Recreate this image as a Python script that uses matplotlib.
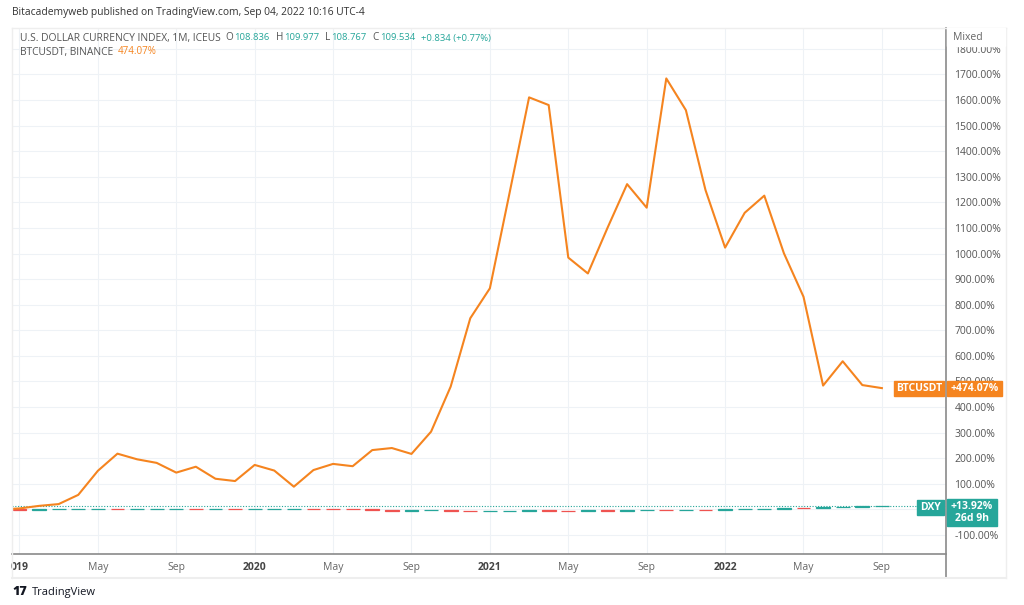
import matplotlib.pyplot as plt
from matplotlib.lines import Line2D
from matplotlib.patches import Rectangle

# month index 0 = Jan 2019 (first value = Dec 2018)
btc_months = list(range(-1, 45))
btc_pct = [0, 4, 14, 21, 57, 151, 218, 196, 182, 144, 167, 120, 111,
           174, 152, 89, 154, 178, 169, 232, 240, 217, 304, 480, 747,
           864, 1235, 1610, 1580, 984, 922, 1100, 1271, 1179, 1684, 1560, 1248,
           1023, 1159, 1226, 1001, 831, 484, 579, 486, 474.07]

# DXY monthly closes, Dec 2018 .. Sep 2022
dxy_close = [96.17,
             95.58, 96.16, 97.28, 97.48, 97.75, 96.13, 98.52, 98.92, 99.38, 97.35, 98.27, 96.39,
             97.39, 98.13, 99.05, 99.02, 98.34, 97.39, 93.35, 92.14, 93.89, 94.04, 91.87, 89.94,
             90.58, 90.88, 93.23, 91.28, 90.03, 92.44, 92.17, 92.63, 94.23, 94.12, 95.99, 95.97,
             96.54, 96.71, 98.31, 103.20, 101.75, 104.69, 105.90, 108.70, 109.534]
dxy_base = 96.15

tick_pos = [0, 4, 8, 12, 16, 20, 24, 28, 32, 36, 40, 44]
tick_lab = ["019", "May", "Sep", "2020", "May", "Sep", "2021", "May", "Sep", "2022", "May", "Sep"]

ORANGE = "#f5841f"
TEAL = "#26a69a"
RED = "#ef5350"
GRAY = "#555555"

plt.rcParams['font.family'] = ['Open Sans', 'DejaVu Sans']

W, H = 1024, 605
fig = plt.figure(figsize=(W / 100, H / 100), dpi=100)
renderer = fig.canvas.get_renderer()


def fx(x):
    return x / W


def fy(y):
    return 1 - y / H


ax = fig.add_axes([fx(12), fy(554), (946 - 12) / W, (554 - 28) / H])
ax.set_xlim(-0.38, 47.27)
ax.set_ylim(-174, 1881)

# DXY candles
dxy_pct = [(p / dxy_base - 1) * 100 for p in dxy_close]
opens = dxy_pct[:-1]
closes = dxy_pct[1:]
cx = list(range(len(closes)))
cols = [TEAL if c >= o else RED for o, c in zip(opens, closes)]
ax.bar(cx, [c - o for o, c in zip(opens, closes)], bottom=opens, width=0.7,
       color=cols, edgecolor=cols, linewidth=0.9, zorder=3)
ax.axhline(dxy_pct[-1], color=TEAL, lw=0.8, ls=(0, (1, 1.5)), zorder=2)

# BTC line
ax.plot(btc_months, btc_pct, color=ORANGE, lw=1.5, zorder=4)

ax.grid(color="#eef2f6", lw=0.8)
ax.set_axisbelow(True)
for s in ["top", "left", "right"]:
    ax.spines[s].set_visible(False)
ax.spines["bottom"].set_color("#8a8a8a")
ax.spines["bottom"].set_linewidth(1.2)

yt = list(range(-100, 1900, 100))
ax.set_yticks(yt)
# 0% label sits under the DXY tag in the original
ax.set_yticklabels(["" if v == 0 else f"{v:.2f}%" for v in yt])
ax.yaxis.tick_right()
ax.tick_params(axis="y", length=0, pad=6, labelsize=7.5, labelcolor=GRAY)
ax.set_xticks(tick_pos)
ax.set_xticklabels(tick_lab)
ax.tick_params(axis="x", length=0, pad=6, labelsize=7.5, labelcolor="#666666")
for lab in ax.get_xticklabels():
    if lab.get_text() in ("2020", "2021", "2022", "019"):
        lab.set_fontweight("bold")
        lab.set_color("#444444")

# frame lines
fig.add_artist(Line2D([fx(946), fx(946)], [fy(28), fy(578)], color="#8a8a8a", lw=1.2))
fig.add_artist(Line2D([fx(1006), fx(1006)], [fy(28), fy(578)], color="#eeeeee", lw=1))
fig.add_artist(Line2D([fx(12), fx(1006)], [fy(578), fy(578)], color="#eeeeee", lw=1.5))
fig.add_artist(Line2D([fx(12), fx(1006)], [fy(28), fy(28)], color="#eeeeee", lw=1))
fig.add_artist(Line2D([fx(12), fx(12)], [fy(28), fy(578)], color="#eeeeee", lw=1))

# "Mixed" over partially hidden 1800 label
fig.add_artist(Rectangle((fx(947), fy(46)), fx(58), 18 / H, color="white", zorder=5))
fig.text(fx(953), fy(37), "Mixed", fontsize=7.5, color="#666666", va="center", zorder=6)


def tag(x0, x1, y0, y1, s, color, weight="bold"):
    fig.add_artist(Rectangle((fx(x0), fy(y1)), fx(x1 - x0), (y1 - y0) / H,
                             color=color, zorder=7))
    fig.text(fx((x0 + x1) / 2), fy((y0 + y1) / 2), s, fontsize=7.5, color="white",
             ha="center", va="center", fontweight=weight, zorder=8, linespacing=1.15)


# price tags
tag(894, 944, 381, 396, "BTCUSDT", ORANGE)
tag(947, 1002, 381, 396, f"+{btc_pct[-1]:.2f}%", ORANGE)
tag(917, 944, 500, 515, "DXY", TEAL)
tag(947, 997, 499, 526, f"+{dxy_pct[-1]:.2f}%\n26d 9h", TEAL)


def chain(x, y, pieces):
    for s, c, size, gap in pieces:
        t = fig.text(fx(x), fy(y), s, fontsize=size, color=c, va="center")
        bb = t.get_window_extent(renderer)
        x = x + bb.width + gap


# header texts
fig.text(fx(12), fy(13), "Bitacademyweb published on TradingView.com, Sep 04, 2022 10:16 UTC-4",
         fontsize=7.4, color="#333333", va="center")
chain(20, 38, [("U.S. DOLLAR CURRENCY INDEX, 1M, ICEUS", GRAY, 7.4, 5),
               ("O", GRAY, 7.2, 1), ("108.836", TEAL, 6.8, 6),
               ("H", GRAY, 7.2, 1), ("109.977", TEAL, 6.8, 6),
               ("L", GRAY, 7.2, 1), ("108.767", TEAL, 6.8, 6),
               ("C", GRAY, 7.2, 1), ("109.534", TEAL, 6.8, 6),
               ("+0.834 (+0.77%)", TEAL, 6.8, 0)])
chain(20, 52, [("BTCUSDT, BINANCE", GRAY, 7.4, 5), (f"{btc_pct[-1]:.2f}%", ORANGE, 7.0, 0)])

# footer logo
fig.text(fx(12), fy(592), "17", fontsize=9, fontweight="heavy", color="#131722", va="center")
fig.text(fx(32), fy(592), "TradingView", fontsize=8, color="#131722", va="center")

fig.savefig("out.png", dpi=100, facecolor="white")
